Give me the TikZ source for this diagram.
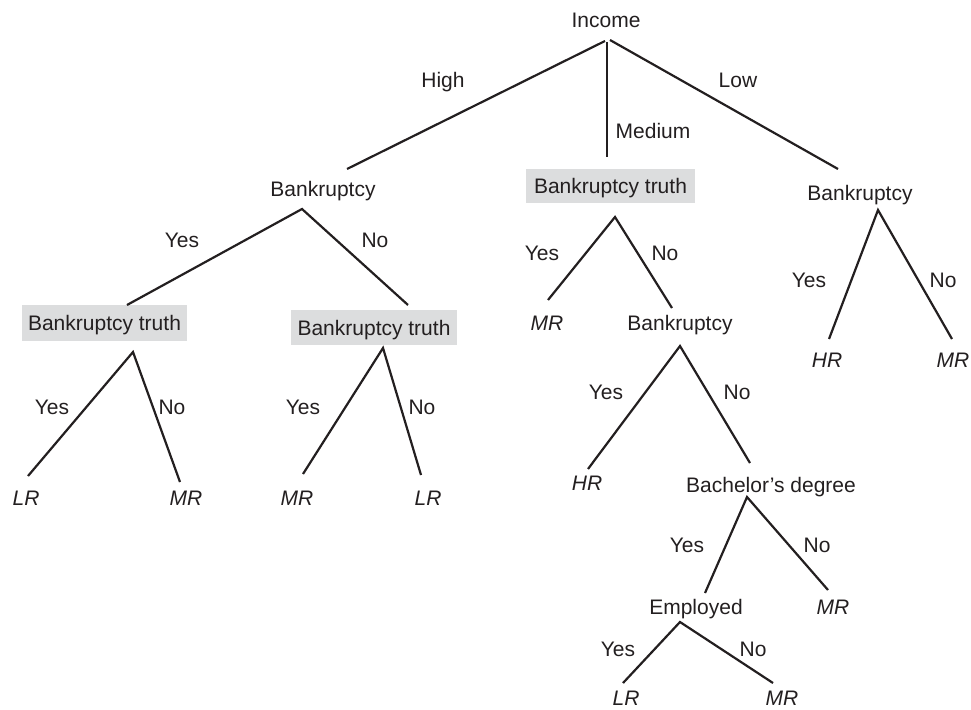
\documentclass[tikz,border=0pt]{standalone}
\usepackage{fontspec}
\setmainfont{Liberation Sans}
\definecolor{txt}{HTML}{231F20}
\definecolor{boxgray}{HTML}{DCDDDE}
\begin{document}
\begin{tikzpicture}[x=1pt,y=-1pt,
  lbl/.style={inner sep=0pt,text height=15pt,text depth=0pt,text=txt,font=\fontsize{21}{25}\selectfont},
  leaf/.style={lbl,font=\fontsize{21}{25}\selectfont\itshape},
  tbox/.style={lbl,fill=boxgray,text depth=0pt},
  edge/.style={line width=2.2pt,draw=txt}]
\useasboundingbox (0,0) rectangle (971,709);
% ---- text nodes
\node[lbl] (inc) at (606,20) {Income};
\node[lbl] (lHigh) at (443,80) {High};
\node[lbl] (lMed) at (653,131) {Medium};
\node[lbl] (lLow) at (738,80) {Low};
\node[lbl] (bkl) at (323,189) {Bankruptcy};
\node[tbox,minimum width=169pt,minimum height=34pt] (bkm) at (610.5,186) {Bankruptcy truth};
\node[lbl] (bkr) at (860,193) {Bankruptcy};
\node[tbox,minimum width=165pt,minimum height=36pt] (bt1) at (104.5,323) {Bankruptcy truth};
\node[tbox,minimum width=166pt,minimum height=35pt] (bt2) at (374,327.5) {Bankruptcy truth};
\node[lbl] (y1) at (182,240) {Yes};
\node[lbl] (n1) at (375,240) {No};
\node[lbl] (y2) at (52,407) {Yes};
\node[lbl] (n2) at (172,407) {No};
\node[leaf] (lr1) at (26,498) {LR};
\node[leaf] (mr1) at (186,498) {MR};
\node[lbl] (y3) at (303,407) {Yes};
\node[lbl] (n3) at (422,407) {No};
\node[leaf] (mr2) at (297,498) {MR};
\node[leaf] (lr2) at (428,498) {LR};
\node[lbl] (y4) at (542,253) {Yes};
\node[lbl] (n4) at (665,253) {No};
\node[leaf] (mr3) at (547,323) {MR};
\node[lbl] (bkm2) at (680,323) {Bankruptcy};
\node[lbl] (y5) at (606,392) {Yes};
\node[lbl] (n5) at (737,392) {No};
\node[leaf] (hr1) at (587,483) {HR};
\node[lbl] (bach) at (771,485) {Bachelor’s degree};
\node[lbl] (y6) at (687,545) {Yes};
\node[lbl] (n6) at (817,545) {No};
\node[lbl] (emp) at (696,607) {Employed};
\node[leaf] (mr4) at (833,607) {MR};
\node[lbl] (y7) at (618,649) {Yes};
\node[lbl] (n7) at (753,649) {No};
\node[leaf] (lr3) at (626,698) {LR};
\node[leaf] (mr5) at (782,698) {MR};
\node[lbl] (y8) at (809,280) {Yes};
\node[lbl] (n8) at (943,280) {No};
\node[leaf] (hr2) at (827,360) {HR};
\node[leaf] (mr6) at (953,360) {MR};
% ---- connector end points
\coordinate (incL) at (605,41);
\coordinate (incM) at (607,42);
\coordinate (incR) at (610,40);
\coordinate (bklT) at (347,169);
\coordinate (bkmT) at (607,157);
\coordinate (bkrT) at (838,169);
\coordinate (bklB) at (302,209);
\coordinate (bt1T) at (127,305);
\coordinate (bt2T) at (408,305);
\coordinate (bt1B) at (133,352);
\coordinate (lr1T) at (28,476);
\coordinate (mr1T) at (180,482);
\coordinate (bt2B) at (383,348);
\coordinate (mr2T) at (303,474);
\coordinate (lr2T) at (421,475);
\coordinate (bkmB) at (615,217);
\coordinate (mr3T) at (548,300);
\coordinate (bkm2T) at (672,308);
\coordinate (bkm2B) at (680,346);
\coordinate (hr1T) at (588,469);
\coordinate (bachT) at (750,463);
\coordinate (bachB) at (747,497);
\coordinate (empT) at (705,593);
\coordinate (mr4T) at (828,590);
\coordinate (empB) at (680,622);
\coordinate (lr3T) at (623,683);
\coordinate (mr5T) at (773,683);
\coordinate (bkrB) at (878,210);
\coordinate (hr2T) at (829,339);
\coordinate (mr6T) at (952,339);
% ---- connectors
\draw[edge] (incL) -- (bklT);
\draw[edge] (incM) -- (bkmT);
\draw[edge] (incR) -- (bkrT);
\draw[edge] (bt1T) -- (bklB) -- (bt2T);
\draw[edge] (lr1T) -- (bt1B) -- (mr1T);
\draw[edge] (mr2T) -- (bt2B) -- (lr2T);
\draw[edge] (mr3T) -- (bkmB) -- (bkm2T);
\draw[edge] (hr1T) -- (bkm2B) -- (bachT);
\draw[edge] (empT) -- (bachB) -- (mr4T);
\draw[edge] (lr3T) -- (empB) -- (mr5T);
\draw[edge] (hr2T) -- (bkrB) -- (mr6T);
\end{tikzpicture}
\end{document}
